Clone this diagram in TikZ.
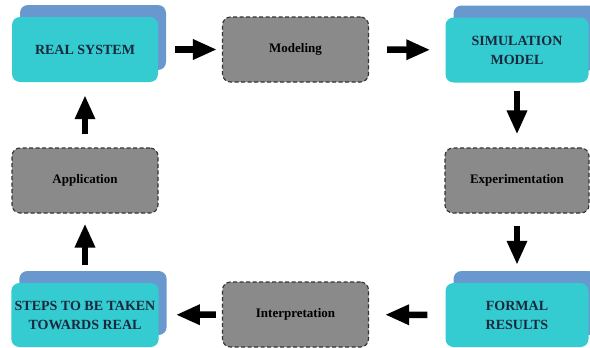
\documentclass[tikz,border=0pt]{standalone}
\usepackage{fontspec}
\setmainfont{Liberation Serif}
\usepackage{tikz}
\usetikzlibrary{arrows.meta,shapes,shadows,calc}

\definecolor{boxcyan}{RGB}{52,204,208}
\definecolor{boxblue}{RGB}{104,152,206}
\definecolor{boxgray}{RGB}{138,138,138}
\definecolor{textnavy}{RGB}{26,40,62}

\begin{document}
\begin{tikzpicture}[x=1pt,y=-1pt]
      \tikzset{sysbox/.style={rectangle, rounded corners=8pt,
          minimum width=146pt, minimum height=65pt,
          fill=boxcyan, text=textnavy, align=center,
          font=\bfseries\fontsize{14}{19}\selectfont,
          copy shadow={shadow xshift=8pt, shadow yshift=12pt,
            fill=boxblue, draw=none}},
        actbox/.style={rectangle, rounded corners=8pt,
          minimum width=146pt, minimum height=65pt,
          fill=boxgray, draw=black!80, line width=1.1pt,
          dash pattern=on 4pt off 2.5pt,
          font=\bfseries\fontsize{13}{17}\selectfont},
        flow/.style={line width=6.5pt,
          -{Triangle[length=24pt,width=19pt]}}
      }
      \useasboundingbox (0,0) rectangle (590,348);
      \node [sysbox] (real) at (85,49.5) {REAL SYSTEM};
      \node [actbox] (model) at (295.5,49.5) {Modeling};
      \node [sysbox, minimum width=143pt] (sim) at (517,50) {SIMULATION\\MODEL};
      \node [actbox, minimum width=144pt] (exp) at (517,180.5) {Experimentation};
      \node [sysbox, minimum width=143pt, minimum height=64pt] (formal) at (517,315) {FORMAL\\RESULTS};
      \node [actbox] (interp) at (295.5,314.5) {Interpretation};
      \node [sysbox, minimum height=64pt] (steps) at (85,315) {STEPS TO BE TAKEN\\TOWARDS REAL};
      \node [actbox] (app) at (85,180.5) {Application};

      \draw [flow, shorten <=17pt, shorten >=5pt] (real) -- (model);
      \draw [flow, shorten <=18pt, shorten >=15pt] (model) -- (sim);
      \draw [flow, shorten <=8pt, shorten >=13pt] (sim) -- (exp);
      \draw [flow, shorten <=12pt, shorten >=18pt] (exp) -- (formal);
      \draw [flow, shorten <=18pt, shorten >=16pt] (formal) -- (interp);
      \draw [flow, shorten <=6pt, shorten >=17pt] (interp) -- (steps);
      \draw [flow, shorten <=18pt, shorten >=10pt] (steps) -- (app);
      \draw [flow, shorten <=13pt, shorten >=13pt] (app) -- (real);
    \end{tikzpicture}
\end{document}
